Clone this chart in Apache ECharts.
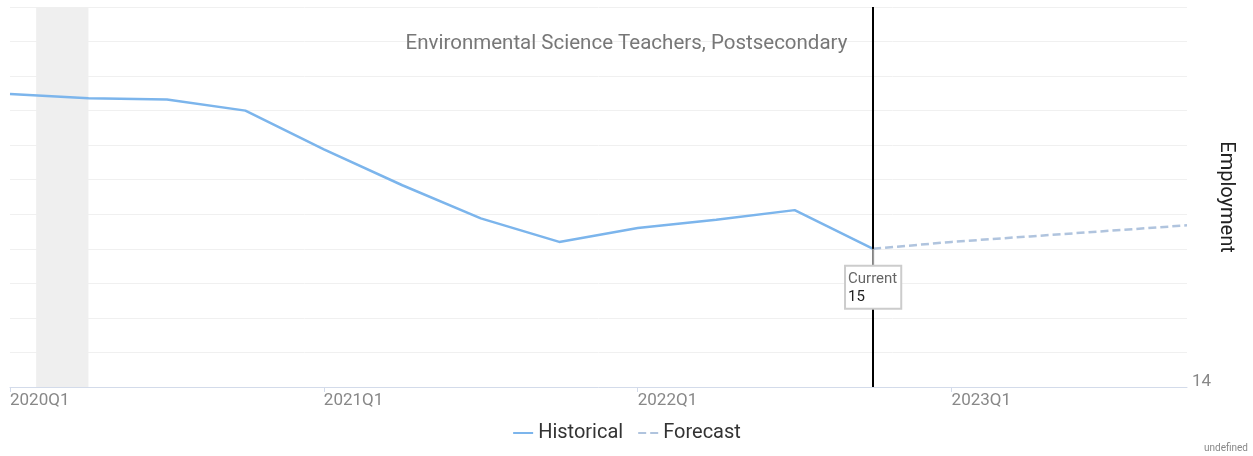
<!DOCTYPE html>
<html>
<head>
<meta charset="utf-8">
<script src="https://cdn.jsdelivr.net/npm/echarts@6/dist/echarts.min.js"></script>
<style>
  html, body { margin: 0; padding: 0; background: #fff; }
  #chart { width: 1253px; height: 456px; }
</style>
</head>
<body>
<div id="chart"></div>
<script>
// quarters on the x axis (index = position)
const quarters = [
  '2020Q1', '2020Q2', '2020Q3', '2020Q4',
  '2021Q1', '2021Q2', '2021Q3', '2021Q4',
  '2022Q1', '2022Q2', '2022Q3', '2022Q4',
  '2023Q1', '2023Q2', '2023Q3', '2023Q4'
]
const historical = [16.12, 16.09, 16.08, 16.0, 15.72, 15.46, 15.22, 15.05, 15.15, 15.21, 15.28, 15.0]
const forecast = [15.0, 15.05, 15.09, 15.13, 15.17]
const currentIndex = 11
const shadeRange = [1 / 3, 1]
const yTickLabels = ['14']

const histData = historical.map((v, i) => [i, v])
const fcData = forecast.map((v, i) => [currentIndex + i, v])

const chart = echarts.init(document.getElementById('chart'))
chart.setOption({
  animation: false,
  textStyle: { fontFamily: 'Roboto' },
  title: {
    text: 'Environmental Science Teachers, Postsecondary',
    left: 'center',
    top: 28,
    textStyle: { color: '#777', fontSize: 20.5, fontWeight: 'normal' }
  },
  grid: { left: 10, right: 66, top: 7, bottom: 69 },
  legend: {
    bottom: 8,
    left: 'center',
    itemWidth: 20,
    itemGap: 14,
    itemStyle: { opacity: 0 },
    textStyle: { color: '#333', fontSize: 20 },
    data: ['Historical', 'Forecast']
  },
  xAxis: {
    type: 'value',
    min: 0,
    max: quarters.length - 1,
    interval: 4,
    splitLine: { show: false },
    axisLine: { lineStyle: { color: '#d3dbea' } },
    axisTick: { show: true, length: 5, lineStyle: { color: '#d3dbea' } },
    axisLabel: {
      align: 'left',
      margin: 5,
      color: '#888',
      fontSize: 17,
      showMaxLabel: false,
      formatter: v => (v % 4 === 0 ? quarters[v] : '')
    }
  },
  yAxis: {
    type: 'value',
    position: 'right',
    min: 14,
    max: 16.75,
    interval: 0.25,
    name: 'Employment',
    nameLocation: 'middle',
    nameRotate: -90,
    nameGap: 29,
    nameMoveOverlap: false,
    nameTextStyle: { color: '#222', fontSize: 20 },
    axisLine: { show: false },
    axisTick: { show: false },
    splitLine: { lineStyle: { color: '#f0f0f0', width: 1 } },
    axisLabel: {
      color: '#888',
      fontSize: 17,
      margin: 5,
      verticalAlign: 'bottom',
      lineHeight: 10,
      formatter: v => (yTickLabels.includes(String(v)) ? String(v) : '')
    }
  },
  series: [
    {
      name: 'Historical',
      type: 'line',
      data: histData,
      symbol: 'none',
      lineStyle: { color: '#7cb5ec', width: 2.5 },
      itemStyle: { color: '#7cb5ec' },
      markArea: {
        silent: true,
        itemStyle: { color: '#efefef' },
        data: [[{ xAxis: shadeRange[0] }, { xAxis: shadeRange[1] }]]
      },
      markLine: {
        silent: true,
        symbol: ['none', 'none'],
        label: { show: false },
        lineStyle: { color: '#000', width: 2, type: 'solid' },
        data: [{ xAxis: currentIndex }]
      },
      markPoint: {
        silent: true,
        z: 10,
        symbol: 'rect',
        symbolSize: [2, 18],
        symbolOffset: [0, 9],
        itemStyle: { color: '#999' },
        label: {
          show: true,
          position: 'bottom',
          distance: 0,
          backgroundColor: '#fff',
          borderColor: '#ccc',
          borderWidth: 2,
          padding: [3, 3, 2, 2],
          align: 'center',
          formatter: p => '{a|Current}\n{b|' + Math.round(p.value) + '}',
          rich: {
            a: { color: '#666', fontSize: 15, lineHeight: 18, align: 'left' },
            b: { color: '#222', fontSize: 15, lineHeight: 18, align: 'left' }
          }
        },
        data: [{ coord: [currentIndex, historical[currentIndex]], value: historical[currentIndex] }]
      }
    },
    {
      name: 'Forecast',
      type: 'line',
      data: fcData,
      symbol: 'none',
      lineStyle: { color: '#b0c4de', width: 2.5, type: [8, 4] },
      itemStyle: { color: '#b0c4de' }
    }
  ],
  graphic: [{
    type: 'text',
    right: 5,
    bottom: 3,
    style: { text: 'undefined', fill: '#888', fontSize: 10, fontFamily: 'Roboto' }
  }]
})
</script>
</body>
</html>
